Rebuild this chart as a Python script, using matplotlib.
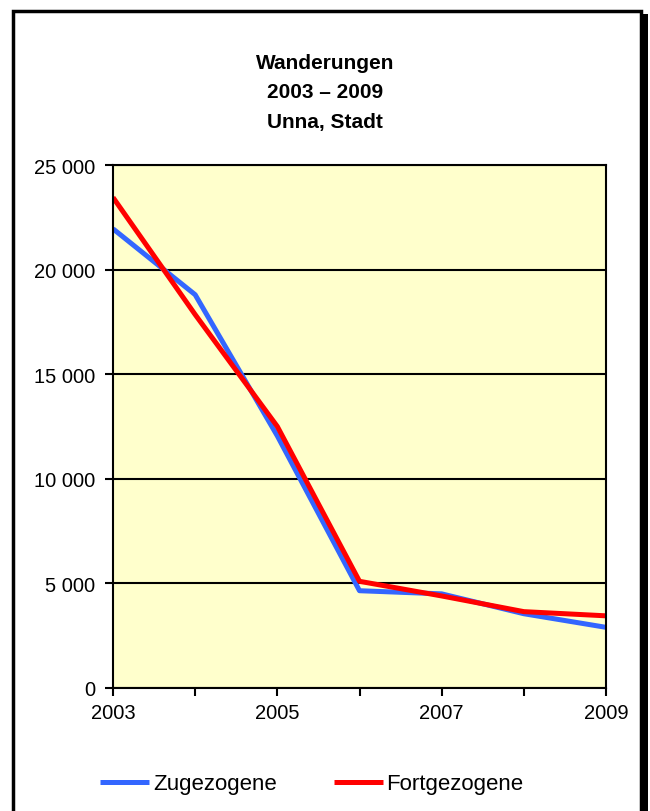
import matplotlib
matplotlib.use('Agg')
import matplotlib.pyplot as plt
from matplotlib.patches import Rectangle
from matplotlib.ticker import FuncFormatter

plt.rcParams['font.family'] = ['Liberation Sans', 'DejaVu Sans']

# data
years = [2003, 2004, 2005, 2006, 2007, 2008, 2009]
zugezogene = [21950, 18800, 12050, 4650, 4500, 3550, 2900]
fortgezogene = [23450, 17850, 12500, 5100, 4400, 3650, 3450]
year_labels = [2003, 2005, 2007, 2009]

W, H = 650, 812
fig = plt.figure(figsize=(W / 100, H / 100), dpi=100)

# outer frame and shadow
fig.patches.append(Rectangle((641 / W, 0), 7 / W, (H - 15) / H, transform=fig.transFigure,
                             facecolor='black', edgecolor='none', zorder=0))
fig.patches.append(Rectangle((13 / W, -0.02), 628 / W, (H - 12) / H + 0.02, transform=fig.transFigure,
                             facecolor='white', edgecolor='black', linewidth=2.5, zorder=1))

ax = fig.add_axes([113 / W, (H - 689) / H, (606 - 113) / W, (689 - 166) / H])
ax.set_facecolor('#FFFFCC')
ax.set_zorder(2)

ax.plot(years, zugezogene, color='#3366FF', linewidth=3.6, solid_capstyle='butt', label='Zugezogene')
ax.plot(years, fortgezogene, color='#FF0000', linewidth=3.6, solid_capstyle='butt', label='Fortgezogene')

ax.set_xlim(2003, 2009)
ax.set_ylim(0, 25000)
ax.set_yticks(range(0, 25001, 5000))
ax.yaxis.set_major_formatter(FuncFormatter(lambda v, p: f'{int(v):,}'.replace(',', ' ')))
ax.set_xticks(years)
ax.set_xticklabels([str(y) if y in year_labels else '' for y in years])
ax.grid(axis='y', color='black', linewidth=1.5)
ax.set_axisbelow(True)
for s in ax.spines.values():
    s.set_linewidth(1.5)
ax.tick_params(axis='both', length=6, width=1.5, labelsize=14.5, direction='out')
ax.tick_params(axis='y', pad=7)
ax.tick_params(axis='x', pad=5)

fig.text(0.5, 1 - 93 / H, 'Wanderungen\n2003 – 2009\nUnna, Stadt', ha='center', va='center',
         multialignment='center', fontsize=15, fontweight='bold', linespacing=1.7)

handles, labels = ax.get_legend_handles_labels()
fig.legend(handles, labels, loc='center', bbox_to_anchor=(0.48, 1 - 785 / H), ncol=2,
           frameon=False, fontsize=16, handlelength=2.2, handletextpad=0.18, columnspacing=2.55)

fig.savefig('out.png', dpi=100)
